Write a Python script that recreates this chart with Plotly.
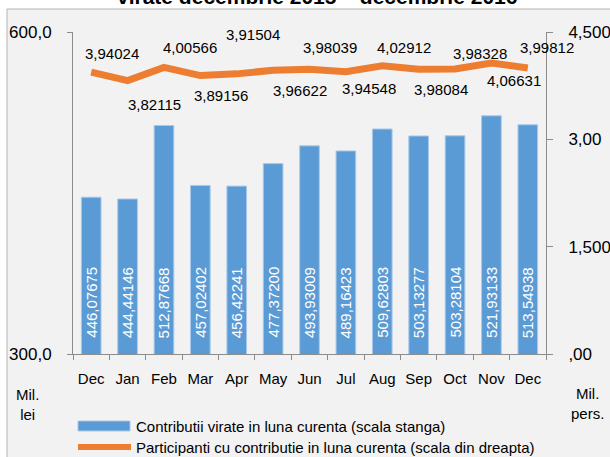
import plotly.graph_objects as go

# ---- data ----
months = ["Dec", "Jan", "Feb", "Mar", "Apr", "May", "Jun", "Jul", "Aug", "Sep", "Oct", "Nov", "Dec"]
contributii = [446.07675, 444.44146, 512.87668, 457.02402, 456.42241, 477.37200, 493.93009,
               489.16423, 509.62803, 503.13277, 503.28104, 521.93133, 513.54938]
participanti = [3.94024, 3.82115, 4.00566, 3.89156, 3.91504, 3.96622, 3.98039,
                3.94548, 4.02912, 3.98084, 3.98328, 4.06631, 3.99812]
left_ticks = [300, 600]
right_ticks = [0, 1.5, 3.0, 4.5]
right_ticktext = [",00", "1,500", "3,00", "4,500"]

# line-label offsets in pixels (layout only)
label_dx = [21, 27, 26, 21, 16, 27, 20, 23, 22, 22, 25, 23, 19]
label_dy = [19, -24, 20, -20, 39, -20, 22, -17, 18, -20, 15, -17, 20]

FONT = "Liberation Sans, Arial, sans-serif"
W, H = 610, 457
L, R, T, B = 73, 64, 32, 103
PW, PH = W - L - R, H - T - B

def px(x):
    return (x - L) / PW

def py(y):
    return (H - B - y) / PH

def fmt(v, d):
    return f"{v:.{d}f}".replace(".", ",")

idx = list(range(len(months)))

fig = go.Figure()
fig.add_trace(go.Bar(
    x=idx, y=contributii, width=0.54,
    marker=dict(color="#5b9bd5", line=dict(color="#a8c8ea", width=1)),
    name="Contributii virate in luna curenta (scala stanga)",
    yaxis="y", showlegend=False,
))
fig.add_trace(go.Scatter(
    x=idx, y=participanti, mode="lines",
    line=dict(color="#ed7d31", width=7),
    name="Participanti cu contributie in luna curenta (scala din dreapta)",
    yaxis="y2", showlegend=False,
))

annotations = []
# bar value labels (rotated, at base)
for i, v in zip(idx, contributii):
    annotations.append(dict(
        x=i, y=left_ticks[0], xref="x", yref="y", text=fmt(v, 5),
        textangle=-90, showarrow=False, xanchor="center", yanchor="bottom",
        yshift=14, font=dict(family=FONT, size=15, color="white"),
    ))
# line value labels
for i, v, dx, dy in zip(idx, participanti, label_dx, label_dy):
    annotations.append(dict(
        x=i, y=v, xref="x", yref="y2", text=fmt(v, 5), showarrow=False,
        xanchor="center", yanchor="middle", xshift=dx, yshift=dy,
        font=dict(family=FONT, size=15, color="#000"),
    ))
# axis unit labels
annotations.append(dict(x=px(27), y=py(404), xref="paper", yref="paper", text="Mil.<br>lei",
                        showarrow=False, xanchor="center", yanchor="middle",
                        font=dict(family=FONT, size=15, color="#000")))
annotations.append(dict(x=px(587), y=py(403), xref="paper", yref="paper", text="Mil.<br>pers.",
                        showarrow=False, xanchor="center", yanchor="middle",
                        font=dict(family=FONT, size=15, color="#000")))
# title (clipped at top)
annotations.append(dict(x=px(317), y=py(10), xref="paper", yref="paper",
                        text="<b>virate decembrie 2015 – decembrie 2016</b>",
                        showarrow=False, xanchor="center", yanchor="bottom",
                        font=dict(family=FONT, size=21, color="#000")))
# custom legend text
annotations.append(dict(x=px(134), y=py(426), xref="paper", yref="paper",
                        text="Contributii virate in luna curenta (scala stanga)",
                        showarrow=False, xanchor="left", yanchor="middle",
                        font=dict(family=FONT, size=15, color="#000")))
annotations.append(dict(x=px(134), y=py(447), xref="paper", yref="paper",
                        text="Participanti cu contributie in luna curenta (scala din dreapta)",
                        showarrow=False, xanchor="left", yanchor="middle",
                        font=dict(family=FONT, size=15, color="#000")))

shapes = [
    # chart area box
    dict(type="rect", xref="paper", yref="paper", x0=px(7), x1=px(620), y0=py(470), y1=py(9),
         fillcolor="#f2f2f2", line=dict(color="#b4b4b4", width=1), layer="below"),
    # legend swatches
    dict(type="rect", xref="paper", yref="paper", x0=px(78), x1=px(130), y0=py(431), y1=py(421),
         fillcolor="#5b9bd5", line=dict(color="#a8c8ea", width=1)),
    dict(type="line", xref="paper", yref="paper", x0=px(78), x1=px(131), y0=py(447), y1=py(447),
         line=dict(color="#ed7d31", width=6)),
]

axis_col = "#8c8c8c"
fig.update_layout(
    width=W, height=H,
    margin=dict(l=L, r=R, t=T, b=B),
    paper_bgcolor="white", plot_bgcolor="rgba(0,0,0,0)",
    font=dict(family=FONT, size=15, color="#000"),
    separators=",.",
    showlegend=False,
    xaxis=dict(
        range=[-0.5, len(months) - 0.5], tickmode="array", tickvals=idx, ticktext=months,
        ticks="", showgrid=False, zeroline=False, showline=True, linecolor=axis_col,
        tickfont=dict(size=15), ticklabelstandoff=11,
        minor=dict(tickmode="array", tickvals=[i - 0.5 for i in range(len(months) + 1)],
                   ticks="outside", ticklen=5, tickcolor=axis_col, showgrid=False),
        automargin=False,
    ),
    yaxis=dict(
        range=[300, 600], tickmode="array", tickvals=left_ticks, tickformat=".1f",
        ticks="outside", ticklen=5, tickcolor=axis_col, showgrid=False, zeroline=False,
        showline=True, linecolor=axis_col, tickfont=dict(size=17), ticklabelstandoff=12,
        automargin=False,
    ),
    yaxis2=dict(
        range=[0, 4.5], overlaying="y", side="right", tickmode="array",
        tickvals=right_ticks, ticktext=right_ticktext,
        ticks="outside", ticklen=6, tickcolor=axis_col, showgrid=False, zeroline=False,
        showline=True, linecolor=axis_col, tickfont=dict(size=17), ticklabelstandoff=12,
        automargin=False,
    ),
    annotations=annotations,
    shapes=shapes,
)

fig.write_html("out.html", config={"displayModeBar": False},
               post_script="document.body.style.margin='0';document.body.style.overflow='hidden';")
